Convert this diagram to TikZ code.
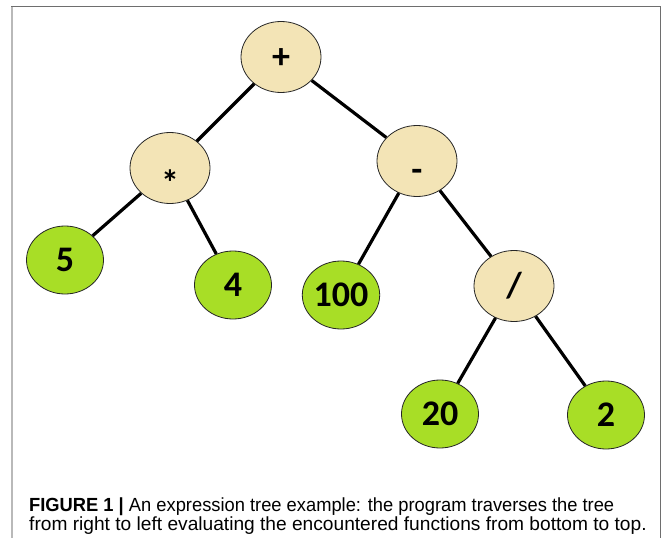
\documentclass[tikz,border=0pt]{standalone}
\usepackage{fontspec}
\usepackage{graphicx}
\setmainfont{Liberation Sans}
\newfontfamily\nodefont{Carlito}
\usetikzlibrary{shapes.geometric}
\definecolor{opfill}{RGB}{243,228,182}
\definecolor{leaffill}{RGB}{168,222,38}
\definecolor{framedark}{RGB}{110,110,110}
\definecolor{framelight}{RGB}{185,185,185}
\begin{document}
\begin{tikzpicture}[x=1pt,y=-1pt,
  treenode/.style={ellipse,draw=black!85,line width=0.8pt,inner sep=0pt,
    text height=23pt,text depth=0pt,
    font=\nodefont\bfseries\fontsize{36}{36}\selectfont},
  opnode/.style={treenode,fill=opfill,minimum width=80pt,minimum height=71pt},
  leafnode/.style={treenode,fill=leaffill,minimum width=77pt,minimum height=68pt},
  branch/.style={line width=3.2pt,black},
  caption/.style={anchor=base west,inner sep=0pt,font=\fontsize{19}{21}\selectfont}]
\useasboundingbox (0,0) rectangle (662,538);
\fill[white] (0,0) rectangle (662,538);

% frame
\draw[framelight,line width=2pt] (12,6.5) -- (12,538);
\draw[framedark,line width=1.5pt] (11,6.5) -- (660.5,6.5) -- (660.5,538);

% operators
\node[opnode] (plus)  at (281,57)  {+};
\node[opnode] (times) at (170,168) {\raisebox{-16pt}{*}};
\node[opnode] (minus) at (417,161) {\raisebox{-9pt}{-}};
\node[opnode] (div)   at (514,286) {/};

% operands
\node[leafnode] (five)    at (65,260)  {5};
\node[leafnode] (four)    at (233,285) {4};
\node[leafnode] (hundred) at (341,295) {100};
\node[leafnode] (twenty)  at (440,414) {20};
\node[leafnode] (two)     at (606,415) {2};

% branches
\draw[branch] (plus) -- (times);
\draw[branch] (plus) -- (minus);
\draw[branch] (times) -- (five);
\draw[branch] (times) -- (four);
\draw[branch] (minus) -- (hundred);
\draw[branch] (minus) -- (div);
\draw[branch] (div) -- (twenty);
\draw[branch] (div) -- (two);

% caption
\node[caption] (cap1) at (29,511) {\scalebox{0.964}[1]{\textbf{FIGURE 1 |} An expression tree example: the program traverses the tree}};
\node[caption] (cap2) at (29,530.5) {\scalebox{1.008}[1]{from right to left evaluating the encountered functions from bottom to top.}};
\end{tikzpicture}
\end{document}
